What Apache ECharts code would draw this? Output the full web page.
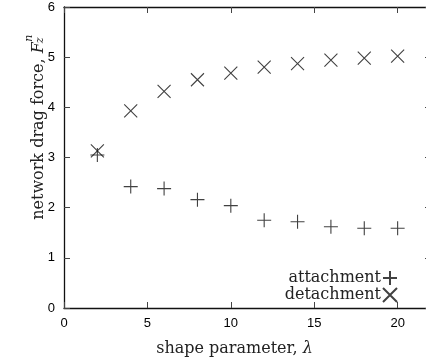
<!DOCTYPE html>
<html>
<head>
<meta charset="utf-8">
<script src="https://cdn.jsdelivr.net/npm/echarts@6/dist/echarts.min.js"></script>
<style>
  html, body { margin: 0; padding: 0; background: #fff; }
  #chart { width: 426px; height: 362px; }
</style>
</head>
<body>
<div id="chart"></div>
<script>
// Shape parameter values (lambda)
const lambdas = [2, 4, 6, 8, 10, 12, 14, 16, 18, 20];
// Network drag force for each process
const attachment = [3.05, 2.42, 2.38, 2.16, 2.04, 1.75, 1.72, 1.62, 1.59, 1.59];
const detachment = [3.13, 3.93, 4.32, 4.55, 4.68, 4.80, 4.87, 4.94, 4.98, 5.02];
const xTicks = [0, 5, 10, 15, 20];
const yTicks = [0, 1, 2, 3, 4, 5, 6];

const PLUS = 'path://M0,5L10,5M5,0L5,10';
const CROSS = 'path://M0,0L10,10M10,0L0,10';
const SERIF = '"DejaVu Serif", serif';
const SANS = '"Liberation Sans", Arial, sans-serif';
const TITLE_SIZE = 16;

const chart = echarts.init(document.getElementById('chart'), null, { renderer: 'canvas' });

const toPairs = vals => lambdas.map((x, i) => [x, vals[i]]);

const axisLine = { show: true, onZero: false, lineStyle: { color: '#111', width: 1.3 } };
const axisTick = { show: true, inside: true, length: 6, lineStyle: { color: '#444', width: 1 } };

chart.setOption({
  animation: false,
  // the frame runs a little past the right edge of the canvas
  grid: { left: 64, top: 7, width: 367, height: 301, outerBoundsMode: 'none' },
  xAxis: [{
    type: 'value', min: 0, max: 22, interval: 5,
    axisLine, axisTick,
    splitLine: { show: false },
    axisLabel: {
      color: '#000', fontFamily: SANS, fontSize: 13, margin: 9,
      showMaxLabel: false,
      formatter: v => (xTicks.includes(v) ? String(v) : '')
    },
    name: '{t|shape parameter, }{l|λ}',
    nameLocation: 'middle', nameGap: 33,
    nameTextStyle: {
      padding: [0, 26, 0, 0],
      rich: {
        t: { fontFamily: SERIF, fontSize: TITLE_SIZE, color: '#222' },
        l: { fontFamily: SERIF, fontSize: TITLE_SIZE, fontStyle: 'italic', color: '#222' }
      }
    }
  }, {
    type: 'value', min: 0, max: 22, interval: 5, position: 'top',
    axisLine, axisTick,
    splitLine: { show: false }, axisLabel: { show: false }
  }],
  yAxis: [{
    type: 'value', min: 0, max: 6, interval: 1,
    axisLine, axisTick,
    splitLine: { show: false },
    axisLabel: {
      color: '#000', fontFamily: SANS, fontSize: 13, margin: 9,
      formatter: v => (yTicks.includes(v) ? String(v) : '')
    }
  }, {
    type: 'value', min: 0, max: 6, interval: 1, position: 'right',
    axisLine, axisTick,
    splitLine: { show: false }, axisLabel: { show: false }
  }],
  legend: {
    orient: 'vertical', align: 'right',
    right: 23, top: 265,
    itemWidth: 14, itemHeight: 14, itemGap: 1,
    textStyle: { fontFamily: SERIF, fontSize: TITLE_SIZE, color: '#222', padding: [0, -3, 0, 0] },
    selectedMode: false,
    data: [
      { name: 'attachment', icon: PLUS },
      { name: 'detachment', icon: CROSS }
    ]
  },
  series: [{
    name: 'attachment', type: 'scatter',
    symbol: PLUS, symbolSize: 14,
    itemStyle: { color: 'transparent', borderColor: '#111', borderWidth: 1.1 },
    emphasis: { disabled: true },
    data: toPairs(attachment)
  }, {
    name: 'detachment', type: 'scatter',
    symbol: CROSS, symbolSize: 13,
    itemStyle: { color: 'transparent', borderColor: '#111', borderWidth: 1.1 },
    emphasis: { disabled: true },
    data: toPairs(detachment)
  }]
});

// Vertical y-axis title with stacked sub/superscript on F
(function drawYTitle() {
  const ctx = document.createElement('canvas').getContext('2d');
  const main = 'network drag force, ';
  const mainFont = TITLE_SIZE + 'px ' + SERIF;
  const fFont = 'italic ' + TITLE_SIZE + 'px ' + SERIF;
  const scriptFont = 'italic 11px ' + SERIF;
  ctx.font = mainFont;
  const wMain = ctx.measureText(main).width;
  ctx.font = fFont;
  const wF = ctx.measureText('F').width;
  const total = wMain + wF + 8;
  const cy = 127;           // screen y of the title centre
  const bx = 31;            // screen x of the baseline
  const startY = cy + total / 2;
  chart.setOption({
    graphic: [{
      type: 'group', x: bx, y: startY, rotation: Math.PI / 2,
      children: [
        { type: 'text', x: 0, y: 0, style: { text: main, font: mainFont, fill: '#222', textBaseline: 'alphabetic' } },
        { type: 'text', x: wMain, y: 0, style: { text: 'F', font: fFont, fill: '#222', textBaseline: 'alphabetic' } },
        { type: 'text', x: wMain + wF + 0.5, y: -7.5, style: { text: 'n', font: scriptFont, fill: '#222', textBaseline: 'alphabetic' } },
        { type: 'text', x: wMain + wF - 1, y: 3.5, style: { text: 'z', font: scriptFont, fill: '#222', textBaseline: 'alphabetic' } }
      ]
    }]
  });
})();
</script>
</body>
</html>
